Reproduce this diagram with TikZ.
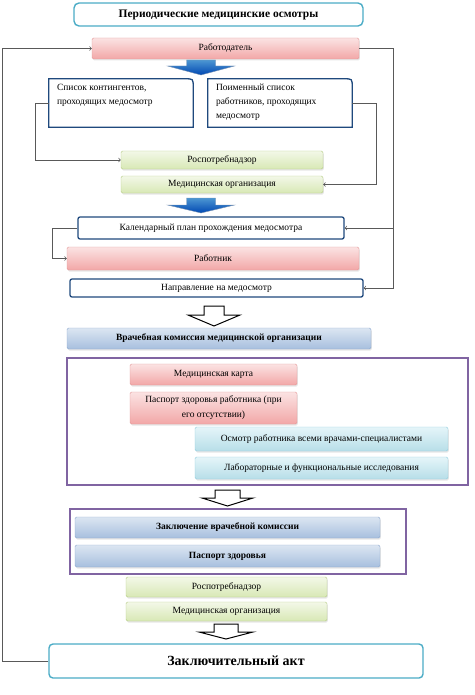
\documentclass[tikz,border=0pt]{standalone}
\usepackage{fontspec}
\setmainfont{Liberation Serif}
\usetikzlibrary{arrows,calc,shadows}

\definecolor{navy}{HTML}{1F497D}
\definecolor{teal}{HTML}{4BACC6}
\definecolor{lilac}{HTML}{8064A2}
\definecolor{wire}{HTML}{595959}
\definecolor{pinktop}{HTML}{FBE3E3}
\definecolor{pinkbot}{HTML}{F2A7A7}
\definecolor{pinkline}{HTML}{E39A9A}
\definecolor{greentop}{HTML}{F3F8E8}
\definecolor{greenbot}{HTML}{D8E8B5}
\definecolor{greenline}{HTML}{B6CC86}
\definecolor{bluetop}{HTML}{DCE6F2}
\definecolor{bluebot}{HTML}{A7BFDE}
\definecolor{blueline}{HTML}{8EA9CF}
\definecolor{cyantop}{HTML}{E5F5F9}
\definecolor{cyanbot}{HTML}{B7DEE8}
\definecolor{cyanline}{HTML}{93CDDD}

\begin{document}
\begin{tikzpicture}[x=1pt,y=-1pt,>=to,
	every node/.style={font=\fontsize{9.5}{12}\selectfont,inner sep=0pt,align=center},
	sz/.style 2 args={minimum width=#1,minimum height=#2},
	shade/.style={drop shadow={opacity=0.2,shadow xshift=0.8pt,shadow yshift=-1.5pt}},
	redbox/.style={shade,draw=pinkline,top color=pinktop,bottom color=pinkbot,rounded corners=1.5pt},
	greenbox/.style={shade,draw=greenline,top color=greentop,bottom color=greenbot,rounded corners=1.5pt},
	bluebox/.style={shade,draw=blueline,top color=bluetop,bottom color=bluebot,rounded corners=1.5pt,font=\fontsize{9.5}{12}\selectfont\bfseries},
	cyanbox/.style={shade,draw=cyanline,top color=cyantop,bottom color=cyanbot,rounded corners=1.5pt},
	navybox/.style={draw=navy,line width=1.3pt,fill=white,rounded corners=2pt},
	tealbox/.style={draw=teal,line width=1.4pt,fill=white,rounded corners=5pt},
	frame/.style={draw=lilac,line width=1.3pt},
	conn/.style={draw=wire,line width=0.7pt},
	bluearrow/.style={top color=blue!45!cyan!75!black!70,bottom color=blue!60!cyan!70!black,draw=navy!60},
	openarrow/.style={fill=white,draw=black,line width=1pt},
]

\useasboundingbox (0,0) rectangle (474,695);

% frames
\node[frame,sz={401}{127}] (fra) at (267.5,421.5) {};
\node[frame,sz={336}{65}] (frb) at (238,541.5) {};

% top part
\node[tealbox,sz={289}{23},font=\fontsize{11.5}{14}\selectfont\bfseries] (title) at (218.5,14.5)
	{Периодические медицинские осмотры};
\node[redbox,sz={267}{21}] (emp) at (225.5,48.5) {Работодатель};

\node[sz={144}{48},font=\fontsize{9.5}{14}\selectfont] (lista) at (121,103)
	{\parbox[c][38pt][t]{128pt}{Список контингентов,\\проходящих медосмотр}};
\node[sz={144}{48},font=\fontsize{9.5}{14}\selectfont] (listb) at (280,103)
	{\parbox[c][38pt][t]{128pt}{Поименный список\\работников, проходящих\\медосмотр}};
\foreach \n in {lista,listb}{
	\draw[navy,line width=1.3pt] (\n.south west) -- (\n.north west)
		-- ([xshift=-8pt]\n.north east) .. controls (\n.north east) .. ([yshift=-8pt]\n.north east)
		-- (\n.south east) -- cycle;
}

\node[greenbox,sz={202}{18}] (rospa) at (222,160) {Роспотребнадзор};
\node[greenbox,sz={202}{17}] (meda) at (222,184.5) {Медицинская организация};

\node[navybox,sz={266}{22}] (plan) at (211,228) {Календарный план прохождения медосмотра};
\node[redbox,sz={292}{23}] (worker) at (213,258.5) {Работник};
\node[navybox,sz={293}{18}] (dir) at (216.5,288) {Направление на медосмотр};

% middle part
\node[bluebox,sz={304}{21}] (vk) at (219,338.5) {Врачебная комиссия медицинской организации};
\node[redbox,sz={167}{21}] (card) at (213.5,374.5) {Медицинская карта};
\node[redbox,sz={167}{32},font=\fontsize{9.5}{15}\selectfont] (pass) at (213.5,408)
	{Паспорт здоровья работника (при\\его отсутствии)};
\node[cyanbox,sz={253}{24}] (exam) at (321.5,439) {Осмотр работника всеми врачами-специалистами};
\node[cyanbox,sz={253}{22}] (lab) at (321.5,468) {Лабораторные и функциональные исследования};

% bottom part
\node[bluebox,sz={305}{21}] (concl) at (227.5,527.5) {Заключение врачебной комиссии};
\node[bluebox,sz={305}{22}] (hpass) at (227.5,556) {Паспорт здоровья};
\node[greenbox,sz={201}{20}] (rospb) at (226.5,587) {Роспотребнадзор};
\node[greenbox,sz={201}{19}] (medb) at (226.5,611.5) {Медицинская организация};
\node[tealbox,rounded corners=4pt,sz={374}{34},font=\fontsize{14}{16}\selectfont\bfseries] (final) at (236,661)
	{Заключительный акт};

% connectors
\draw[conn,->] (final.west) -- ++(-46,0) |- (emp.west);
\draw[conn] (emp.east) -- ++(34,0) coordinate (rt);
\draw[conn,->] (rt) |- (dir.east);
\draw[conn,->] (rt |- plan.east) -- (plan.east);
\draw[conn,->] (lista.west) -- ++(-13,0) |- (rospa.west);
\draw[conn,->] (listb.east) -- ++(24,0) |- (meda.east);
\draw[conn,->] (plan.west) -- ++(-25,0) |- (worker.west);

% block arrows
\foreach \cx/\ty/\hy/\tp in {201/60/66/75,201/198/205/213}{
	\draw[bluearrow] ({\cx-14.5},\ty) -- ({\cx+14.5},\ty) -- ({\cx+14.5},\hy) -- ({\cx+33.5},\hy)
		-- (\cx,\tp) -- ({\cx-33.5},\hy) -- ({\cx-14.5},\hy) -- cycle;
}
\foreach \cx/\ty/\hy/\tp/\sw/\hw in {214/306/315/326/10/26,227.5/490/498/506/12.5/25.5,226/624/632/639/12/27}{
	\draw[openarrow] ({\cx-\sw},\ty) -- ({\cx+\sw},\ty) -- ({\cx+\sw},\hy) -- ({\cx+\hw},\hy)
		-- (\cx,\tp) -- ({\cx-\hw},\hy) -- ({\cx-\sw},\hy) -- cycle;
}

\end{tikzpicture}
\end{document}
